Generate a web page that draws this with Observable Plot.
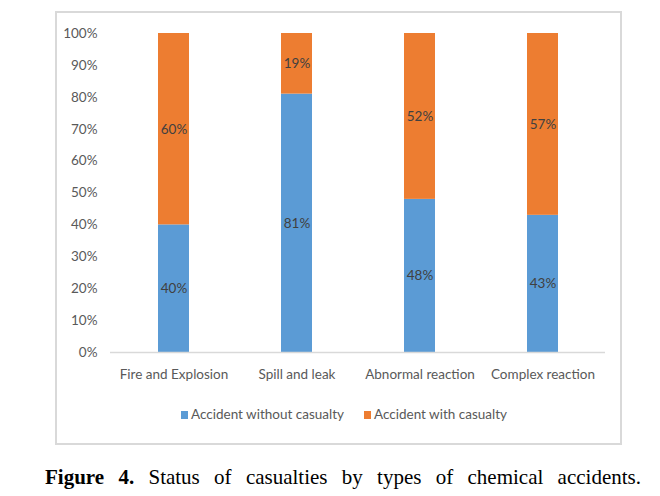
<!DOCTYPE html>
<html>
<head>
<meta charset="utf-8">
<script src="https://cdn.jsdelivr.net/npm/d3@7"></script>
<script src="https://cdn.jsdelivr.net/npm/@observablehq/plot@0.6"></script>
<style>
  html, body { margin: 0; padding: 0; background: #fff; }
  #wrap { position: relative; width: 660px; height: 496px; overflow: hidden; }
  #box { position: absolute; left: 55px; top: 11px; width: 567px; height: 434px; box-sizing: border-box; border: 2px solid #d9d9d9; }
  #chart { position: absolute; left: 0; top: 0; }
  #legend { position: absolute; left: 0; width: 660px; top: 406px; height: 20px; font-family: Lato, "Liberation Sans Narrow", sans-serif; font-size: 13.5px; color: #595959; white-space: nowrap; }
  #legend span.item { position: absolute; top: 0; }
  #legend span.sw { display: inline-block; width: 7px; height: 8px; margin-right: 3px; }
  #caption { position: absolute; left: 45px; width: 596px; top: 465px; font-family: "Liberation Serif", "Times New Roman", serif; font-size: 21px; color: #000; text-align: justify; text-align-last: justify; white-space: nowrap; }
</style>
</head>
<body>
<div id="wrap">
  <div id="box"></div>
  <div id="chart"></div>
  <div id="legend"></div>
  <div id="caption"><b>Figure 4.</b> Status of casualties by types of chemical accidents.</div>
</div>
<script>
const categories = ["Fire and Explosion", "Spill and leak", "Abnormal reaction", "Complex reaction"];
const seriesNames = ["Accident without casualty", "Accident with casualty"];
const withoutCasualty = [40, 81, 48, 43];
const withCasualty = [60, 19, 52, 57];
const yTicks = [0, 10, 20, 30, 40, 50, 60, 70, 80, 90, 100];
const colors = ["#5b9bd5", "#ed7d31"];

const data = [];
categories.forEach((c, i) => {
  data.push({category: c, series: seriesNames[0], value: withoutCasualty[i]});
  data.push({category: c, series: seriesNames[1], value: withCasualty[i]});
});

const font = 'Lato, "Liberation Sans Narrow", sans-serif';

const chart = Plot.plot({
  width: 660,
  height: 392,
  marginLeft: 110,
  marginRight: 55,
  marginTop: 33,
  marginBottom: 40,
  style: {fontFamily: font, fontSize: "13.5px", color: "#595959", background: "transparent", overflow: "visible"},
  x: {domain: categories, paddingInner: 0.75, paddingOuter: 0.375, label: null, tickSize: 0, tickPadding: 17},
  y: {domain: [0, 100], ticks: yTicks, tickFormat: d => d + "%", label: null, tickSize: 0, tickPadding: 13},
  color: {domain: seriesNames, range: colors},
  marks: [
    Plot.barY(data, Plot.stackY({x: "category", y: "value", fill: "series", order: seriesNames})),
    Plot.ruleY([0], {stroke: "#d9d9d9", strokeWidth: 1.5}),
    Plot.text(data, Plot.stackY({x: "category", y: "value", z: "series", order: seriesNames, text: d => d.value + "%", fill: "#404040", fontSize: 13.5})),
  ]
});
document.getElementById("chart").appendChild(chart);

const legend = document.getElementById("legend");
const legendLeft = [181, 364];
seriesNames.forEach((s, i) => {
  const item = document.createElement("span");
  item.className = "item";
  item.style.left = legendLeft[i] + "px";
  const sw = document.createElement("span");
  sw.className = "sw";
  sw.style.background = colors[i];
  item.appendChild(sw);
  item.appendChild(document.createTextNode(s));
  legend.appendChild(item);
});
</script>
</body>
</html>
